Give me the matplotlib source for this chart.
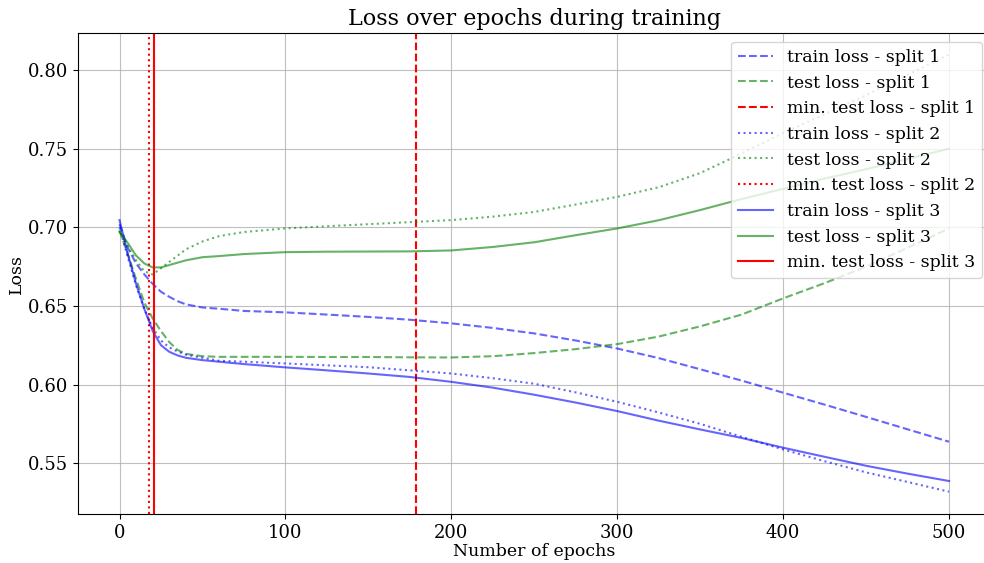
import numpy as np
import matplotlib
matplotlib.use("Agg")
import matplotlib.pyplot as plt
from matplotlib.ticker import FormatStrFormatter

plt.rcParams['font.family'] = 'DejaVu Serif'

# epochs at which the losses were logged
epochs = [0, 5, 10, 15, 20, 25, 30, 35, 40, 50, 60, 75, 100, 125, 150, 175, 200,
          225, 250, 275, 300, 325, 350, 375, 400, 425, 450, 475, 500]

train_split1 = [0.702, 0.687, 0.677, 0.670, 0.664, 0.659, 0.6558, 0.653, 0.651, 0.649,
                0.6482, 0.6468, 0.6459, 0.6445, 0.643, 0.6412, 0.6389, 0.636, 0.6325,
                0.628, 0.6229, 0.6168, 0.6097, 0.6025, 0.5948, 0.5872, 0.5794, 0.5715, 0.5636]
test_split1 = [0.698, 0.683, 0.667, 0.652, 0.642, 0.634, 0.627, 0.622, 0.6195, 0.618,
               0.6176, 0.6176, 0.6176, 0.6175, 0.6175, 0.6173, 0.6172, 0.618, 0.620,
               0.6225, 0.6257, 0.6305, 0.637, 0.6445, 0.6548, 0.6645, 0.675, 0.687, 0.6993]
train_split2 = [0.700, 0.681, 0.663, 0.648, 0.636, 0.628, 0.6236, 0.621, 0.619, 0.617,
                0.6151, 0.6145, 0.6134, 0.6122, 0.611, 0.609, 0.607, 0.604, 0.6005,
                0.595, 0.589, 0.5822, 0.575, 0.5667, 0.5587, 0.5512, 0.5441, 0.538, 0.5318]
test_split2 = [0.698, 0.688, 0.679, 0.672, 0.670, 0.674, 0.678, 0.682, 0.686, 0.691,
               0.6944, 0.697, 0.6993, 0.7007, 0.702, 0.7033, 0.7046, 0.7068, 0.7098,
               0.7145, 0.7194, 0.7255, 0.7345, 0.747, 0.760, 0.772, 0.784, 0.797, 0.810]
train_split3 = [0.7046, 0.683, 0.664, 0.648, 0.634, 0.625, 0.6208, 0.6185, 0.617, 0.6155,
                0.6145, 0.613, 0.6109, 0.609, 0.607, 0.6048, 0.6017, 0.598, 0.5935,
                0.5885, 0.5831, 0.577, 0.5714, 0.566, 0.5598, 0.554, 0.5483, 0.5433, 0.5386]
test_split3 = [0.697, 0.690, 0.682, 0.677, 0.6745, 0.6745, 0.676, 0.6775, 0.679, 0.681,
               0.6817, 0.683, 0.6842, 0.6845, 0.6846, 0.6847, 0.6853, 0.6875, 0.6905,
               0.695, 0.6993, 0.7045, 0.711, 0.718, 0.7245, 0.731, 0.737, 0.7435, 0.750]

# epoch with the lowest test loss for each split
min_epochs = [179, 18, 21]

train_losses = [train_split1, train_split2, train_split3]
test_losses = [test_split1, test_split2, test_split3]
styles = ['--', ':', '-']

fig = plt.figure(figsize=(9.84, 5.63), dpi=100)
ax = fig.add_axes([0.0793, 0.087, 0.9273, 0.854])

for i in range(3):
    ax.plot(epochs, train_losses[i], linestyle=styles[i], color='blue', alpha=0.6,
            linewidth=1.5, label=f"train loss - split {i + 1}")
    ax.plot(epochs, test_losses[i], linestyle=styles[i], color='green', alpha=0.6,
            linewidth=1.5, label=f"test loss - split {i + 1}")
    ax.axvline(min_epochs[i], linestyle=styles[i], color='red', linewidth=1.5,
               label=f"min. test loss - split {i + 1}")

ax.set_xlim(-25, 525)
ax.set_ylim(0.5176, 0.8235)
ax.set_xticks([0, 100, 200, 300, 400, 500])
ax.set_yticks([0.55, 0.60, 0.65, 0.70, 0.75, 0.80])
ax.yaxis.set_major_formatter(FormatStrFormatter('%.2f'))
ax.tick_params(labelsize=13)
ax.grid(True, color='#b0b0b0', linewidth=0.8, alpha=0.8)
ax.spines['right'].set_visible(False)

ax.set_title("Loss over epochs during training", fontsize=16)
ax.set_xlabel("Number of epochs", fontsize=12.5, labelpad=1)
ax.set_ylabel("Loss", fontsize=12.5, labelpad=2)
ax.legend(loc='upper right', fontsize=12.5)

fig.savefig("out.png", dpi=100)
